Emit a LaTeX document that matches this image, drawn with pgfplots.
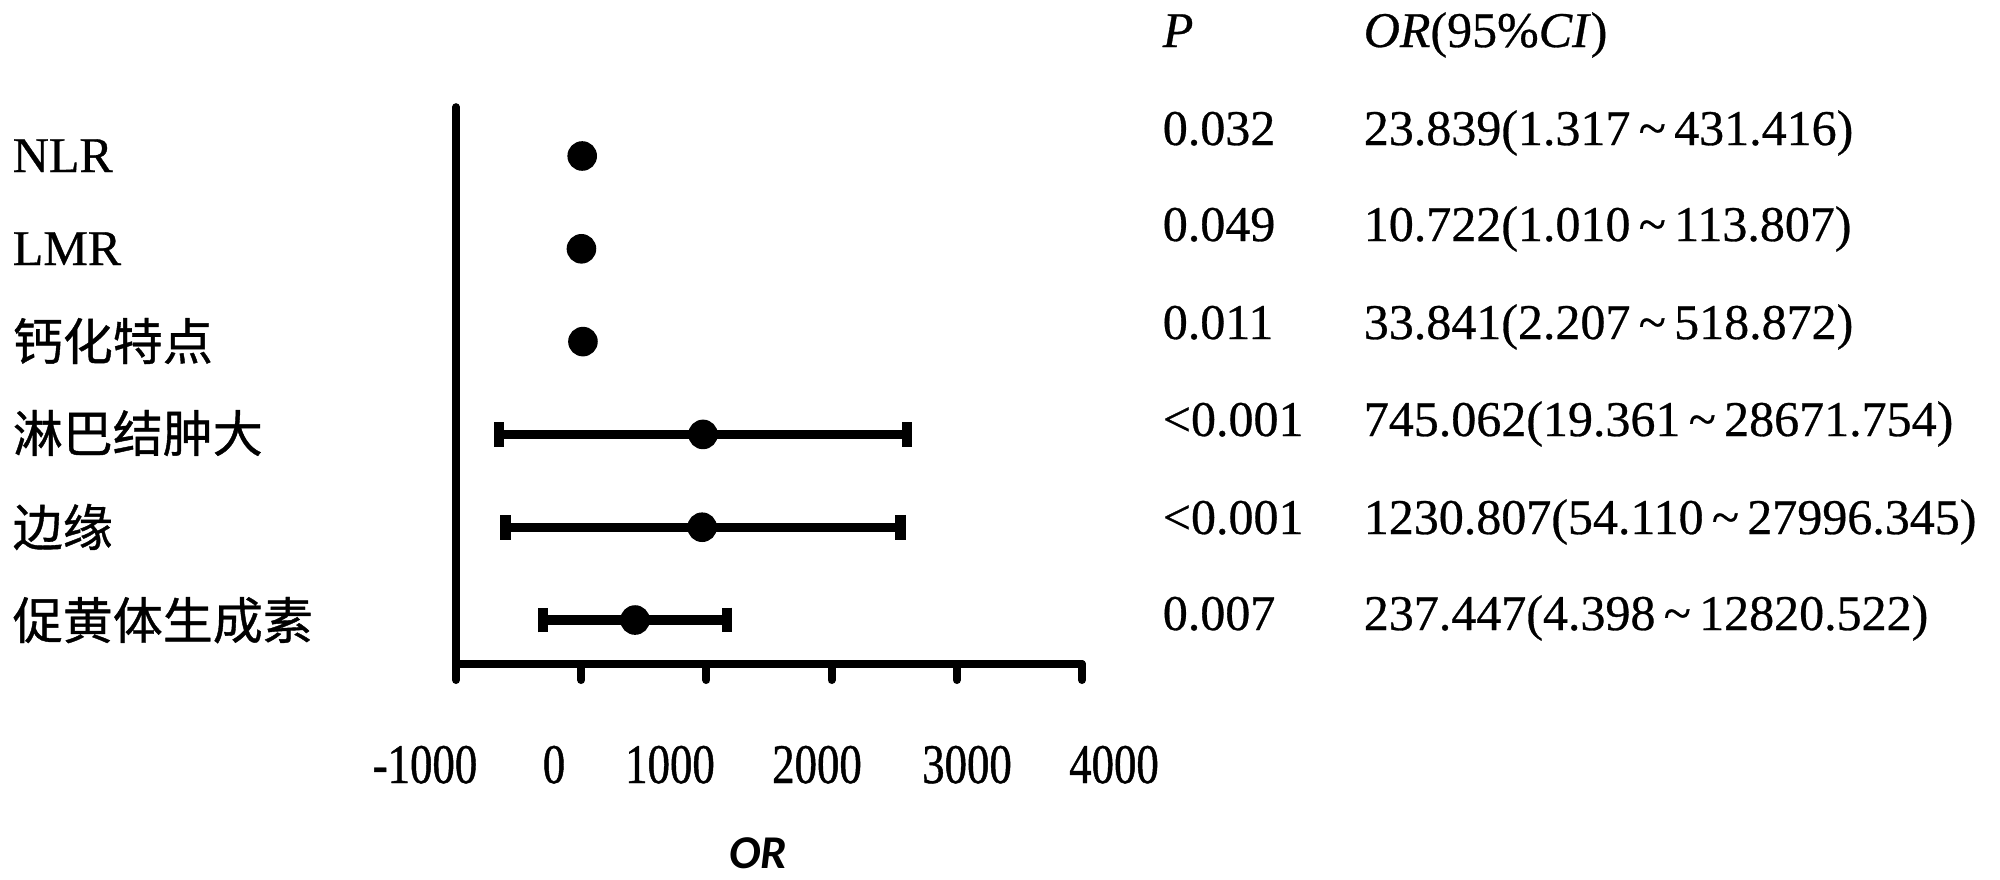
\documentclass[border=0pt]{standalone}
\usepackage{fontspec}
\usepackage{pgfplots}
\pgfplotsset{compat=1.18}
\setmainfont[FakeBold=0.6,AutoFakeBold=0.6]{Liberation Serif}
\newfontfamily\cjk[FakeBold=0.8]{Noto Sans CJK SC}
\newfontfamily\tickfont[FakeStretch=0.8,FakeBold=0.8]{Liberation Serif}
\newfontfamily\orfont{Carlito}
\newcommand{\T}{\fontsize{12.5pt}{15pt}\selectfont}
\newcommand{\TT}{\fontsize{14pt}{16pt}\selectfont}
\newcommand{\tl}{\,\textasciitilde\,}
\begin{document}
\begin{tikzpicture}
\useasboundingbox (0,0) rectangle (500pt,-219.75pt);
\begin{axis}[
  at={(114pt,-166pt)}, anchor=south west,
  scale only axis, width=156.5pt, height=139.25pt,
  xmin=-1000, xmax=4000, ymin=0.526, ymax=6.528,
  axis x line*=bottom, axis y line*=left,
  axis line style={line width=1.9pt, line cap=round, -},
  xtick={-1000,0,1000,2000,3000,4000},
  xticklabels={},
  tick align=outside,
  major tick length=4pt,
  xtick style={line width=2pt, line cap=round, black},
  ytick=\empty,
  clip=false,
]
\addplot[only marks, mark=*, mark size=3.5pt, mark options={fill=black, draw=none}]
  coordinates {(8,6) (2,5) (14,4)};
\addplot[only marks, mark=*, mark size=3.5pt, mark options={fill=black, draw=none},
  error bars/.cd, x dir=both, x explicit,
  error mark=|,
  error bar style={line width=2.3pt, black},
  error mark options={line width=2.7pt, mark size=3.1pt, black}]
  coordinates {
    (973,3) += (1629,0) -= (1630,0)
    (966,2) += (1584,0) -= (1569,0)
    (430,1) += (735,0) -= (735,0)
  };
\end{axis}
\begin{scope}[x=0.25pt, y=-0.25pt, every node/.style={inner sep=0pt, font=\T}]
  % row labels
  \node[anchor=base west] at (12,172) {NLR};
  \node[anchor=base west] at (12,265) {LMR};
  \node[anchor=base west] at (12,360) {\cjk 钙化特点};
  \node[anchor=base west] at (12,452) {\cjk 淋巴结肿大};
  \node[anchor=base west] at (12,546) {\cjk 边缘};
  \node[anchor=base west] at (12,639) {\cjk 促黄体生成素};
  % tick labels
  \node[anchor=base, font=\TT\tickfont] at (425,783) {-1000};
  \node[anchor=base, font=\TT\tickfont] at (554,783) {0};
  \node[anchor=base, font=\TT\tickfont] at (670,783) {1000};
  \node[anchor=base, font=\TT\tickfont] at (817,783) {2000};
  \node[anchor=base, font=\TT\tickfont] at (967,783) {3000};
  \node[anchor=base, font=\TT\tickfont] at (1114,783) {4000};
  % axis title
  \node[anchor=base, font=\fontsize{11.75pt}{14pt}\selectfont\orfont\bfseries\itshape] at (758,868) {OR};
  % table
  \node[anchor=base west] at (1162,47) {\textit{P}};
  \node[anchor=base west] at (1363,47) {\textit{OR}(95\%\textit{CI})};
  \node[anchor=base west] at (1162,145) {0.032};
  \node[anchor=base west] at (1363,145) {23.839(1.317\tl431.416)};
  \node[anchor=base west] at (1162,241) {0.049};
  \node[anchor=base west] at (1363,241) {10.722(1.010\tl113.807)};
  \node[anchor=base west] at (1162,339) {0.011};
  \node[anchor=base west] at (1363,339) {33.841(2.207\tl518.872)};
  \node[anchor=base west] at (1162,436) {<0.001};
  \node[anchor=base west] at (1363,436) {745.062(19.361\tl28671.754)};
  \node[anchor=base west] at (1162,534) {<0.001};
  \node[anchor=base west] at (1363,534) {1230.807(54.110\tl27996.345)};
  \node[anchor=base west] at (1162,630) {0.007};
  \node[anchor=base west] at (1363,630) {237.447(4.398\tl12820.522)};
\end{scope}
\end{tikzpicture}
\end{document}
